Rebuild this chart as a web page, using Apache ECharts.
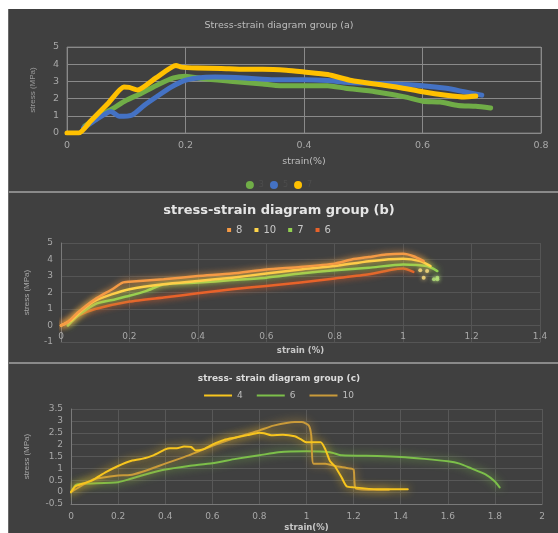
<!DOCTYPE html>
<html><head><meta charset="utf-8">
<script src="https://cdn.jsdelivr.net/npm/echarts@6/dist/echarts.min.js"></script>
<style>html,body{margin:0;padding:0;background:#fff}#c{width:558px;height:533px}</style>
</head><body><div id="c"></div>
<script>
// ---- Panel (a) data ----
const aNames = ['3', '5', '7'];
const a3_x = [0.03,0.05,0.074,0.1,0.125,0.15,0.18,0.2,0.23,0.28,0.33,0.36,0.4,0.44,0.47,0.52,0.57,0.6,0.63,0.66,0.69,0.715];
const a3_y = [0.4,0.9,1.35,1.9,2.3,2.75,3.2,3.3,3.15,3.0,2.85,2.75,2.75,2.75,2.6,2.4,2.1,1.85,1.8,1.6,1.55,1.45];
const a5_x = [0.028,0.05,0.074,0.088,0.11,0.13,0.153,0.175,0.198,0.22,0.25,0.3,0.35,0.4,0.44,0.47,0.5,0.55,0.6,0.64,0.67,0.7];
const a5_y = [0.3,0.8,1.25,0.97,1.05,1.6,2.15,2.65,3.05,3.2,3.25,3.2,3.1,3.1,3.05,2.95,2.9,2.85,2.75,2.6,2.4,2.2];
const a7_x = [0,0.02,0.04,0.07,0.096,0.105,0.119,0.15,0.184,0.193,0.22,0.26,0.3,0.33,0.37,0.4,0.44,0.48,0.52,0.56,0.6,0.64,0.67,0.69];
const a7_y = [0,0,0.7,1.75,2.67,2.65,2.5,3.2,3.93,3.83,3.78,3.75,3.7,3.7,3.65,3.55,3.4,3.05,2.85,2.65,2.4,2.2,2.1,2.15];
const aXTicks = {min: 0, max: 0.8, interval: 0.2};
const aYTicks = {min: 0, max: 5, interval: 1};

// ---- Panel (b) data ----
const bNames = ['8', '10', '7', '6'];
const b8_x = [0,0.02,0.05,0.1,0.15,0.18,0.2,0.3,0.4,0.5,0.6,0.7,0.8,0.85,0.9,0.95,1.0,1.03,1.06];
const b8_y = [0,0.2,0.8,1.6,2.2,2.6,2.65,2.8,3.0,3.15,3.4,3.55,3.75,4.0,4.15,4.3,4.35,4.2,3.9];
const b10_x = [0,0.03,0.06,0.1,0.15,0.2,0.3,0.4,0.5,0.6,0.7,0.8,0.9,1.0,1.05,1.08];
const b10_y = [0,0.3,0.9,1.5,1.9,2.2,2.5,2.7,2.9,3.15,3.4,3.6,3.9,4.05,3.9,3.6];
const b7_x = [0.02,0.05,0.1,0.15,0.2,0.25,0.3,0.4,0.5,0.6,0.7,0.8,0.9,1.0,1.07,1.1];
const b7_y = [0,0.6,1.3,1.55,1.8,2.1,2.5,2.6,2.75,2.9,3.15,3.35,3.5,3.7,3.6,3.3];
const b6_x = [0,0.05,0.1,0.2,0.3,0.4,0.5,0.6,0.7,0.8,0.9,0.97,1.0,1.03];
const b6_y = [0,0.6,1.0,1.45,1.7,1.95,2.2,2.4,2.6,2.85,3.1,3.4,3.45,3.25];
const b10dots_x = [1.05,1.07,1.06];
const b10dots_y = [3.35,3.3,2.9];
const b7dots_x = [1.09,1.1,1.1];
const b7dots_y = [2.8,2.9,2.8];
const bXTicks = {min: 0, max: 1.4, interval: 0.2};
const bYTicks = {min: -1, max: 5, interval: 1};

// ---- Panel (c) data ----
const cNames = ['4', '6', '10'];
const c4_x = [0,0.02,0.08,0.1,0.15,0.2,0.25,0.3,0.35,0.4,0.42,0.45,0.48,0.51,0.53,0.56,0.6,0.65,0.7,0.75,0.8,0.82,0.85,0.9,0.95,0.98,1.0,1.06,1.08,1.1,1.12,1.15,1.17,1.2,1.3,1.43];
const c4_y = [0,0.25,0.45,0.55,0.85,1.1,1.3,1.4,1.55,1.8,1.85,1.85,1.92,1.9,1.75,1.8,2.0,2.2,2.3,2.4,2.5,2.48,2.4,2.42,2.35,2.2,2.1,2.1,1.8,1.3,1.1,0.6,0.25,0.2,0.12,0.12];
const c6_x = [0,0.02,0.05,0.2,0.25,0.3,0.4,0.5,0.6,0.7,0.8,0.88,1.0,1.1,1.15,1.3,1.4,1.5,1.6,1.65,1.7,1.76,1.8,1.82];
const c6_y = [0,0.3,0.35,0.42,0.55,0.7,0.95,1.1,1.22,1.4,1.55,1.68,1.72,1.68,1.55,1.52,1.48,1.4,1.3,1.2,1.0,0.75,0.45,0.2];
const c10_x = [0,0.05,0.1,0.2,0.25,0.3,0.4,0.5,0.6,0.7,0.8,0.86,0.95,0.98,1.01,1.02,1.03,1.08,1.12,1.18,1.2,1.21,1.3,1.35];
const c10_y = [0,0.3,0.55,0.7,0.72,0.85,1.2,1.55,1.95,2.3,2.6,2.8,2.95,2.95,2.8,2.4,1.2,1.2,1.1,1.0,0.95,0.15,0.1,0.1];
const cXTicks = {min: 0, max: 2, interval: 0.2};
const cYTicks = {min: -0.5, max: 3.5, interval: 0.5};

const zip = (xs, ys) => xs.map((x, i) => [x, ys[i]]);
const FONT = 'DejaVu Sans';
// series get unique ids "panel:name"; legends show only the part after ':'
const key = (p, n) => p + ':' + n;
const stripKey = n => n.split(':')[1];

function lineSeries(name, xs, ys, color, idx, width, glow) {
  return {
    name, type: 'line', xAxisIndex: idx, yAxisIndex: idx,
    data: zip(xs, ys), showSymbol: false, smooth: 0.2,
    itemStyle: {color},
    lineStyle: Object.assign({color, width, cap: 'round', join: 'round'},
      glow ? {shadowBlur: glow, shadowColor: color} : {}),
    animation: false, z: 3
  };
}
function dotSeries(name, xs, ys, color, idx) {
  return {name, type: 'scatter', xAxisIndex: idx, yAxisIndex: idx, data: zip(xs, ys),
    symbolSize: 4, itemStyle: {color, shadowBlur: 4, shadowColor: color}, animation: false, z: 3};
}

const chart = echarts.init(document.getElementById('c'), null, {renderer: 'canvas'});
const axisLabel = (c, s) => ({color: c, fontSize: s, fontFamily: FONT});

chart.setOption({
  backgroundColor: '#ffffff',
  animation: false,
  graphic: {elements: [
    {type: 'rect', z: -10, shape: {x: 8, y: 9, width: 550, height: 524}, style: {fill: '#404040'}},
    {type: 'rect', z: -9, shape: {x: 8, y: 191, width: 550, height: 2}, style: {fill: '#8a8a8a'}},
    {type: 'rect', z: -9, shape: {x: 8, y: 362, width: 550, height: 2}, style: {fill: '#8a8a8a'}},
    {type: 'rect', z: -9, shape: {x: 8, y: 9, width: 1, height: 524}, style: {fill: '#6a6a6a'}}
  ]},
  title: [
    {text: 'Stress-strain diagram group (a)', left: 'center', top: 16,
      textStyle: {color: '#bdbdbd', fontSize: 9.5, fontWeight: 'normal', fontFamily: FONT}},
    {text: 'stress-strain diagram group (b)', left: 'center', top: 199,
      textStyle: {color: '#e6e6e6', fontSize: 13, fontWeight: 'bold', fontFamily: FONT}},
    {text: 'stress- strain diagram group (c)', left: 'center', top: 369,
      textStyle: {color: '#dcdcdc', fontSize: 9, fontWeight: 'bold', fontFamily: FONT}}
  ],
  legend: [
    {data: aNames.map(n => key('a', n)), formatter: stripKey, top: 176, left: 'center', icon: 'circle',
      itemWidth: 8, itemHeight: 8, itemGap: 6,
      textStyle: {color: '#4d4d4d', fontSize: 8, fontFamily: FONT}},
    {data: bNames.map(n => key('b', n)), formatter: stripKey, top: 220, left: 'center', icon: 'rect',
      itemWidth: 4, itemHeight: 4, itemGap: 12,
      textStyle: {color: '#c8c8c8', fontSize: 10, fontFamily: FONT}},
    {data: cNames.map(n => key('c', n)), formatter: stripKey, top: 386, left: 'center', icon: 'rect',
      itemWidth: 28, itemHeight: 2, itemGap: 14,
      textStyle: {color: '#bdbdbd', fontSize: 9, fontFamily: FONT}}
  ],
  grid: [
    {left: 67, top: 47, width: 474, height: 86, show: true, borderColor: '#777', borderWidth: 1},
    {left: 61, top: 243, width: 479, height: 99},
    {left: 71, top: 409, width: 471, height: 95}
  ],
  xAxis: [
    Object.assign({type: 'value', gridIndex: 0, name: 'strain(%)', nameLocation: 'middle', nameGap: 24,
      nameTextStyle: {color: '#bdbdbd', fontSize: 9.5, fontFamily: FONT},
      axisLine: {lineStyle: {color: '#8a8a8a'}}, axisTick: {show: false},
      axisLabel: axisLabel('#a8a8a8', 9.5), splitLine: {lineStyle: {color: '#8a8a8a'}}}, aXTicks),
    Object.assign({type: 'value', gridIndex: 1, name: 'strain (%)', nameLocation: 'middle', nameGap: 4,
      nameMoveOverlap: false,
      nameTextStyle: {color: '#c8c8c8', fontSize: 8.5, fontWeight: 'bold', fontFamily: FONT},
      axisLine: {onZero: false, lineStyle: {color: '#555'}}, axisTick: {show: false},
      axisLabel: Object.assign(axisLabel('#a8a8a8', 9), {margin: -10}),
      splitLine: {lineStyle: {color: '#555'}}}, bXTicks),
    Object.assign({type: 'value', gridIndex: 2, name: 'strain(%)', nameLocation: 'middle', nameGap: 19,
      nameTextStyle: {color: '#c8c8c8', fontSize: 8.5, fontWeight: 'bold', fontFamily: FONT},
      axisLine: {onZero: false, lineStyle: {color: '#7a7a7a'}}, axisTick: {show: false},
      axisLabel: axisLabel('#a8a8a8', 9), splitLine: {lineStyle: {color: '#585858'}}}, cXTicks)
  ],
  yAxis: [
    Object.assign({type: 'value', gridIndex: 0, name: 'stress (MPa)', nameLocation: 'middle', nameGap: 30,
      nameTextStyle: {color: '#9a9a9a', fontSize: 8, fontFamily: 'Liberation Sans Narrow, Liberation Sans'},
      axisLine: {show: false}, axisTick: {show: false},
      axisLabel: axisLabel('#a8a8a8', 9.5), splitLine: {lineStyle: {color: '#8a8a8a'}}}, aYTicks),
    Object.assign({type: 'value', gridIndex: 1, name: 'stress (MPa)', nameLocation: 'middle', nameGap: 30,
      nameTextStyle: {color: '#a8a8a8', fontSize: 8, fontFamily: 'Liberation Sans Narrow, Liberation Sans'},
      axisLine: {show: true, onZero: false, lineStyle: {color: '#7a7a7a'}}, axisTick: {show: false},
      axisLabel: axisLabel('#a8a8a8', 9), splitLine: {lineStyle: {color: '#555'}}}, bYTicks),
    Object.assign({type: 'value', gridIndex: 2, name: 'stress (MPa)', nameLocation: 'middle', nameGap: 40,
      nameTextStyle: {color: '#a8a8a8', fontSize: 8, fontFamily: 'Liberation Sans Narrow, Liberation Sans'},
      axisLine: {show: true, onZero: false, lineStyle: {color: '#7a7a7a'}}, axisTick: {show: false},
      axisLabel: axisLabel('#a8a8a8', 9), splitLine: {lineStyle: {color: '#585858'}}}, cYTicks)
  ],
  series: [
    lineSeries(key('a', '3'), a3_x, a3_y, '#70ad47', 0, 5, 0),
    lineSeries(key('a', '5'), a5_x, a5_y, '#4472c4', 0, 5, 0),
    lineSeries(key('a', '7'), a7_x, a7_y, '#ffc000', 0, 5, 0),
    lineSeries(key('b', '6'), b6_x, b6_y, '#e8622a', 1, 2.5, 6),
    lineSeries(key('b', '7'), b7_x, b7_y, '#92d050', 1, 2.5, 6),
    lineSeries(key('b', '10'), b10_x, b10_y, '#ffd54a', 1, 2.5, 6),
    lineSeries(key('b', '8'), b8_x, b8_y, '#f59a45', 1, 2.5, 6),
    dotSeries(key('b', '10 dots'), b10dots_x, b10dots_y, '#ffe080', 1),
    dotSeries(key('b', '7 dots'), b7dots_x, b7dots_y, '#b6e27a', 1),
    lineSeries(key('c', '6'), c6_x, c6_y, '#7cbf4a', 2, 2, 8),
    lineSeries(key('c', '10'), c10_x, c10_y, '#c99a3a', 2, 2, 8),
    lineSeries(key('c', '4'), c4_x, c4_y, '#f7c51e', 2, 2, 8)
  ]
});
</script></body></html>
